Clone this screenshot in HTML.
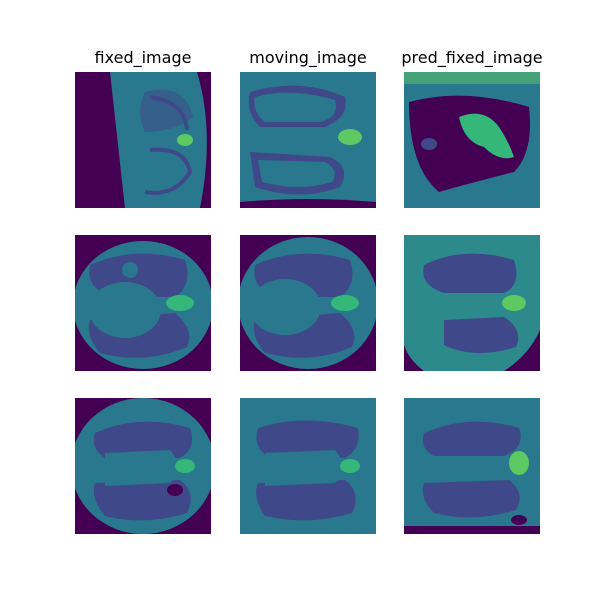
<!DOCTYPE html>
<html><head><meta charset="utf-8"><style>
body{margin:0;background:#fff;width:600px;height:600px;overflow:hidden}
svg{display:block}
text{font-family:"DejaVu Sans","Liberation Sans",sans-serif;font-size:16px;fill:#000}
</style></head><body>
<svg width="600" height="600" viewBox="0 0 600 600">
<defs>
<clipPath id="c"><rect x="0" y="0" width="136" height="136"/></clipPath>
</defs>
<text x="143" y="63" text-anchor="middle">fixed_image</text>
<text x="308" y="63" text-anchor="middle">moving_image</text>
<text x="472" y="63" text-anchor="middle">pred_fixed_image</text>

<!-- Row 1 -->
<g transform="translate(75,72)" clip-path="url(#c)">
<rect width="136" height="136" fill="#440154"/>
<path d="M35,0 L136,0 L136,136 L50,136 Z" fill="#2a788e"/>
<path d="M122,0 Q140,60 125,136 L136,136 L136,0Z" fill="#440154"/>
<path d="M70,20 Q110,10 118,45 Q100,60 70,60 Q60,40 70,20Z" fill="#3f4889" opacity="0.5"/>
<path d="M75,78 Q110,75 115,100 Q100,125 70,120" fill="none" stroke="#3f4889" stroke-width="4"/>
<path d="M75,25 Q110,30 112,58" fill="none" stroke="#3f4889" stroke-width="4"/>
<ellipse cx="110" cy="68" rx="8" ry="6" fill="#5ec962"/>
</g>
<g transform="translate(240,72)" clip-path="url(#c)">
<rect width="136" height="136" fill="#2a788e"/>
<path d="M10,20 Q60,5 105,25 Q110,45 85,55 L20,55 Q5,40 10,20Z" fill="#3f4889"/>
<path d="M10,80 L90,85 Q112,95 100,115 Q60,130 15,115Z" fill="#3f4889"/>
<path d="M15,25 Q50,15 95,28 Q100,45 80,50 L25,50 Q12,40 15,25Z" fill="#2a788e"/>
<path d="M18,88 L85,90 Q100,98 92,110 Q60,120 22,110Z" fill="#2a788e"/>
<ellipse cx="110" cy="65" rx="12" ry="8" fill="#5ec962"/>
<path d="M0,130 Q68,124 136,130 L136,136 L0,136Z" fill="#440154"/>
</g>
<g transform="translate(404,72)" clip-path="url(#c)">
<rect width="136" height="136" fill="#2a788e"/>
<path d="M5,30 Q60,15 125,35 Q130,80 110,100 Q70,110 35,120 Q5,95 5,30Z" fill="#440154"/>
<path d="M55,45 Q80,35 95,55 Q105,70 110,85 Q95,90 80,75 Q60,70 55,45Z" fill="#35b779"/>
<ellipse cx="25" cy="72" rx="8" ry="6" fill="#3f4889"/>
<rect x="0" y="0" width="136" height="12" fill="#5ec962" opacity="0.5"/>
</g>

<!-- Row 2 -->
<g transform="translate(75,235)" clip-path="url(#c)">
<rect width="136" height="136" fill="#440154"/>
<ellipse cx="68" cy="70" rx="70" ry="64" fill="#2a788e"/>
<path d="M15,30 Q60,10 110,25 Q118,50 100,62 L40,62 Q10,55 15,30Z" fill="#3f4889"/>
<path d="M15,85 L100,78 Q120,95 112,112 Q70,130 25,118 Q10,100 15,85Z" fill="#3f4889"/>
<ellipse cx="50" cy="75" rx="36" ry="28" fill="#2a788e"/>
<circle cx="55" cy="35" r="8" fill="#2a788e"/>
<ellipse cx="105" cy="68" rx="14" ry="8" fill="#35b779"/>
</g>
<g transform="translate(240,235)" clip-path="url(#c)">
<rect width="136" height="136" fill="#440154"/>
<ellipse cx="68" cy="68" rx="70" ry="66" fill="#2a788e"/>
<path d="M15,30 Q60,10 110,25 Q118,50 100,62 L40,62 Q10,55 15,30Z" fill="#3f4889"/>
<path d="M15,85 L100,78 Q120,95 112,112 Q70,130 25,118 Q10,100 15,85Z" fill="#3f4889"/>
<ellipse cx="45" cy="72" rx="36" ry="28" fill="#2a788e"/>
<ellipse cx="105" cy="68" rx="14" ry="8" fill="#35b779"/>
</g>
<g transform="translate(404,235)" clip-path="url(#c)">
<rect width="136" height="136" fill="#2d8a8c"/>
<path d="M20,30 Q60,10 110,25 Q118,50 100,58 L40,58 Q15,50 20,30Z" fill="#3f4889"/>
<path d="M40,85 L100,82 Q120,95 112,112 Q70,125 40,110Z" fill="#3f4889"/>
<ellipse cx="110" cy="68" rx="12" ry="8" fill="#5ec962"/>
<path d="M136,95 L136,136 L100,136 Q125,120 136,95Z" fill="#440154"/>
<path d="M0,110 L0,136 L20,136 Q5,125 0,110Z" fill="#440154"/>
</g>

<!-- Row 3 -->
<g transform="translate(75,398)" clip-path="url(#c)">
<rect width="136" height="136" fill="#440154"/>
<ellipse cx="68" cy="68" rx="72" ry="68" fill="#2a788e"/>
<path d="M20,35 Q65,15 115,30 Q122,50 105,60 L30,60 Q15,50 20,35Z" fill="#3f4889"/>
<path d="M20,85 L105,82 Q122,95 112,115 Q70,128 30,118 Q15,100 20,85Z" fill="#3f4889"/>
<path d="M30,55 L95,52 Q110,70 95,85 L30,88Z" fill="#2a788e"/>
<ellipse cx="100" cy="92" rx="8" ry="6" fill="#440154"/>
<ellipse cx="110" cy="68" rx="10" ry="7" fill="#35b779"/>
</g>
<g transform="translate(240,398)" clip-path="url(#c)">
<rect width="136" height="136" fill="#2a788e"/>
<path d="M18,30 Q65,15 118,30 Q122,50 105,60 L30,60 Q12,50 18,30Z" fill="#3f4889"/>
<path d="M18,85 L105,82 Q122,95 112,115 Q70,128 25,118 Q12,100 18,85Z" fill="#3f4889"/>
<path d="M25,55 L95,52 Q110,70 95,85 L25,88Z" fill="#2a788e"/>
<ellipse cx="110" cy="68" rx="10" ry="7" fill="#35b779"/>
</g>
<g transform="translate(404,398)" clip-path="url(#c)">
<rect width="136" height="136" fill="#2a788e"/>
<path d="M20,35 Q65,15 115,30 Q122,50 100,58 L30,58 Q15,50 20,35Z" fill="#3f4889"/>
<path d="M20,85 L105,82 Q122,95 112,112 Q70,125 30,115 Q15,100 20,85Z" fill="#3f4889"/>
<ellipse cx="115" cy="65" rx="10" ry="12" fill="#5ec962"/>
<ellipse cx="115" cy="122" rx="8" ry="5" fill="#440154"/>
<rect x="0" y="128" width="136" height="8" fill="#440154"/>
</g>
</svg>
</body></html>
